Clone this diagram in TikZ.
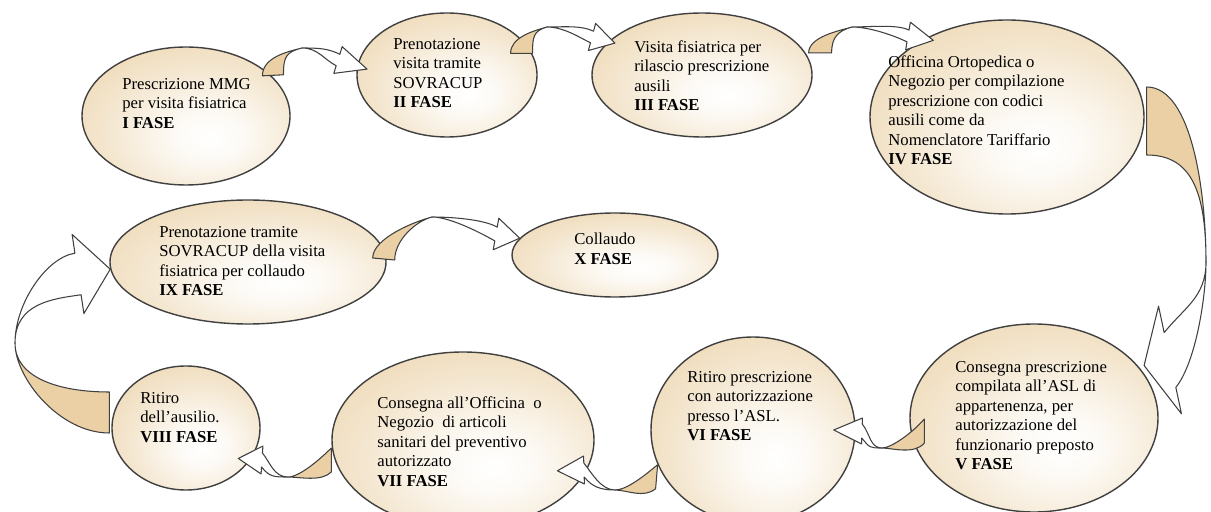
\documentclass[tikz,border=0pt]{standalone}
\usepackage{fontspec}
\setmainfont{Liberation Serif}
\usepackage{tikz}
\usetikzlibrary{calc,shapes.geometric}
\usepackage{xcolor}
\definecolor{fedge}{HTML}{404040}
\definecolor{ftan}{HTML}{EAD0A4}
\pgfdeclareradialshading{fasefill}{\pgfpoint{6bp}{-8bp}}{%
  color(0bp)=(white); color(8bp)=(ftan!10!white); color(25bp)=(ftan!55!white);
  color(40bp)=(ftan!90!white); color(50bp)=(ftan); color(100bp)=(ftan)}
\tikzset{
  fase/.style={ellipse, draw=fedge, line width=0.8pt, shade, shading=fasefill, inner sep=0pt},
  txt/.style={anchor=north west, align=left, inner sep=0pt, font=\fontsize{9.5}{11.1}\selectfont},
  ribbon/.style={draw=fedge, line width=0.6pt, fill=ftan, line join=round},
  back/.style={draw=fedge, line width=0.6pt, fill=white, line join=round},
}
% neck (n1,n2) and barbs (h1,h2) of a head from its base centre #1 to its tip #2
\newcommand{\fasehead}[4]{%
  \coordinate (n1) at ($(#1)!#3!90:(#2)$);
  \coordinate (n2) at ($(#1)!#3!-90:(#2)$);
  \coordinate (h1) at ($(#1)!#4!90:(#2)$);
  \coordinate (h2) at ($(#1)!#4!-90:(#2)$);}

\begin{document}
\begin{tikzpicture}[x=0.2mm,y=-0.2mm]
\useasboundingbox (0,0) rectangle (1211,512);
% the ten phases (pixel grid, y downwards)
\node[fase, minimum width=41.6mm, minimum height=27.6mm] (p1) at (186,116) {};
\node[fase, minimum width=36mm, minimum height=24.8mm] (p2) at (447,75) {};
\node[fase, minimum width=44mm, minimum height=24.8mm] (p3) at (702,75) {};
\node[fase, minimum width=54.8mm, minimum height=38.8mm] (p4) at (1007,117) {};
\node[fase, minimum width=49.6mm, minimum height=37.6mm] (p5) at (1034,418) {};
\node[fase, minimum width=40.8mm, minimum height=37.2mm] (p6) at (753,430) {};
\node[fase, minimum width=52.4mm, minimum height=35.2mm] (p7) at (463,440) {};
\node[fase, minimum width=29.6mm, minimum height=24.8mm] (p8) at (186,428) {};
\node[fase, minimum width=55.2mm, minimum height=24.8mm] (p9) at (248,262) {};
\node[fase, minimum width=41.2mm, minimum height=16.8mm] (p10) at (615,255) {};

% twisted block arrows: tan front up to the twist, white back and head after it
% I -> II
\coordinate (t12) at ($(p2.175)+(10,2)$);
\fasehead{338,60}{t12}{1.2mm}{2.8mm}
\filldraw[ribbon] ($(p1.26)+(-8,1)$) .. controls +(0,-18) and +(-16,4) .. (302,48)
  .. controls +(-16,4) and +(0,-18) .. ($(p1.26)+(13,0)$) -- cycle;
\filldraw[back] (302,48) .. controls +(16,0) and +(-12,-6) .. (n1) -- (h1) -- (t12) -- (h2)
  -- (n2) .. controls +(-12,-6) and +(16,0) .. (302,48) -- cycle;
% II -> III
\coordinate (t23) at ($(p3.160)+(6,2)$);
\fasehead{592,37}{t23}{1.2mm}{2.8mm}
\filldraw[ribbon] ($(p2.15)+(-21,1)$) .. controls +(0,-16) and +(-14,4) .. (547,27)
  .. controls +(-14,4) and +(0,-16) .. ($(p2.15)+(1,1)$) -- cycle;
\filldraw[back] (547,27) .. controls +(16,0) and +(-12,-6) .. (n1) -- (h1) -- (t23) -- (h2)
  -- (n2) .. controls +(-12,-6) and +(16,0) .. (547,27) -- cycle;
% III -> IV
\coordinate (t34) at ($(p4.135)+(6,3)$);
\fasehead{908,36}{t34}{1.2mm}{2.8mm}
\filldraw[ribbon] ($(p3.12)+(3,0)$) .. controls +(0,-16) and +(-14,4) .. (852,27)
  .. controls +(-14,4) and +(0,-16) .. ($(p3.12)+(26,0)$) -- cycle;
\filldraw[back] (852,27) .. controls +(18,0) and +(-12,-6) .. (n1) -- (h1) -- (t34) -- (h2)
  -- (n2) .. controls +(-12,-6) and +(18,0) .. (852,27) -- cycle;
% IV -> V, down the right side
\coordinate (t45) at ($(p5.22)+(0,-8)$);
\fasehead{1170,360}{t45}{5.6mm}{11mm}
\filldraw[ribbon] ($(p4.east)+(2,-30)$) .. controls +(45,0) and +(0,-70) .. (1206,262)
  .. controls +(0,-70) and +(45,0) .. ($(p4.east)+(2,38)$) -- cycle;
\filldraw[back] (1206,262) .. controls +(0,35) and +(20,-25) .. (n1) -- (h1) -- (t45) -- (h2)
  -- (n2) .. controls +(20,-25) and +(0,35) .. (1206,262) -- cycle;
% V -> VI
\coordinate (t56) at ($(p6.0)+(-22,0)$);
\fasehead{862,431}{t56}{1.4mm}{2.6mm}
\filldraw[ribbon] ($(p5.west)+(15,1)$) .. controls +(-10,12) and +(10,0) .. (882,448)
  .. controls +(10,0) and +(-10,12) .. ($(p5.west)+(15,25)$) -- cycle;
\filldraw[back] (882,448) .. controls +(-12,0) and +(8,10) .. (n1) -- (h1) -- (t56) -- (h2)
  -- (n2) .. controls +(8,10) and +(-12,0) .. (882,448) -- cycle;
% VI -> VII
\coordinate (t67) at ($(p7.-15)+(-28,-2)$);
\fasehead{584,470}{t67}{1.4mm}{2.8mm}
\filldraw[ribbon] (p6.200) .. controls +(-12,10) and +(12,0) .. (615,490)
  .. controls +(12,0) and +(-12,10) .. ($(p6.200)+(-2,24)$) -- cycle;
\filldraw[back] (615,490) .. controls +(-14,0) and +(8,10) .. (n1) -- (h1) -- (t67) -- (h2)
  -- (n2) .. controls +(8,10) and +(-14,0) .. (615,490) -- cycle;
% VII -> VIII
\coordinate (t78) at ($(p8.-25)+(-13,0)$);
\fasehead{262,460}{t78}{1.4mm}{2.8mm}
\filldraw[ribbon] ($(p7.west)+(0,8)$) .. controls +(-10,10) and +(12,0) .. (288,477)
  .. controls +(12,0) and +(-10,10) .. ($(p7.west)+(0,32)$) -- cycle;
\filldraw[back] (288,477) .. controls +(-14,0) and +(8,10) .. (n1) -- (h1) -- (t78) -- (h2)
  -- (n2) .. controls +(8,10) and +(-14,0) .. (288,477) -- cycle;
% VIII -> IX, up the left side
\fasehead{78,274}{p9.183}{4.2mm}{8mm}
\filldraw[ribbon] ($(p8.west)+(-2,-36)$) .. controls +(-50,0) and +(0,35) .. (15,343)
  .. controls +(0,35) and +(-50,0) .. ($(p8.west)+(-2,5)$) -- cycle;
\filldraw[back] (15,343) .. controls +(0,-40) and +(-28,4) .. (n1) -- (h1) -- (p9.183) -- (h2)
  -- (n2) .. controls +(-28,4) and +(0,-40) .. (15,343) -- cycle;
% IX -> X
\fasehead{496,234}{p10.170}{1.4mm}{3.2mm}
\filldraw[ribbon] ($(p9.east)+(-14,-4)$) .. controls +(0,-20) and +(-16,4) .. (432,217)
  .. controls +(-16,4) and +(0,-20) .. ($(p9.east)+(8,-2)$) -- cycle;
\filldraw[back] (432,217) .. controls +(18,0) and +(-14,-8) .. (n1) -- (h1) -- (p10.170) -- (h2)
  -- (n2) .. controls +(-14,-8) and +(18,0) .. (432,217) -- cycle;

% texts
\node[txt] (t1) at (122,78) {Prescrizione MMG\\per visita fisiatrica\\\textbf{I FASE}};
\node[txt] (t2) at (393,38) {Prenotazione\\visita tramite\\SOVRACUP\\\textbf{II FASE}};
\node[txt] (t3) at (634,40) {Visita fisiatrica per\\rilascio prescrizione\\ausili\\\textbf{III FASE}};
\node[txt] (t4) at (888,55) {Officina Ortopedica o\\Negozio per compilazione\\prescrizione con codici\\ausili come da\\Nomenclatore Tariffario\\\textbf{IV FASE}};
\node[txt] (t5) at (955,361) {Consegna prescrizione\\compilata all'ASL di\\appartenenza, per\\autorizzazione del\\funzionario preposto\\\textbf{V FASE}};
\node[txt] (t6) at (687,371) {Ritiro prescrizione\\con autorizzazione\\presso l'ASL.\\\textbf{VI FASE}};
\node[txt] (t7) at (377,396) {Consegna all'Officina\ \ o\\Negozio\ \ di articoli\\sanitari del preventivo\\autorizzato\\\textbf{VII FASE}};
\node[txt] (t8) at (140,392) {Ritiro\\dell'ausilio.\\\textbf{VIII FASE}};
\node[txt] (t9) at (159,226) {Prenotazione tramite\\SOVRACUP della visita\\fisiatrica per collaudo\\\textbf{IX FASE}};
\node[txt] (t10) at (574,233) {Collaudo\\\textbf{X FASE}};
\end{tikzpicture}
\end{document}
